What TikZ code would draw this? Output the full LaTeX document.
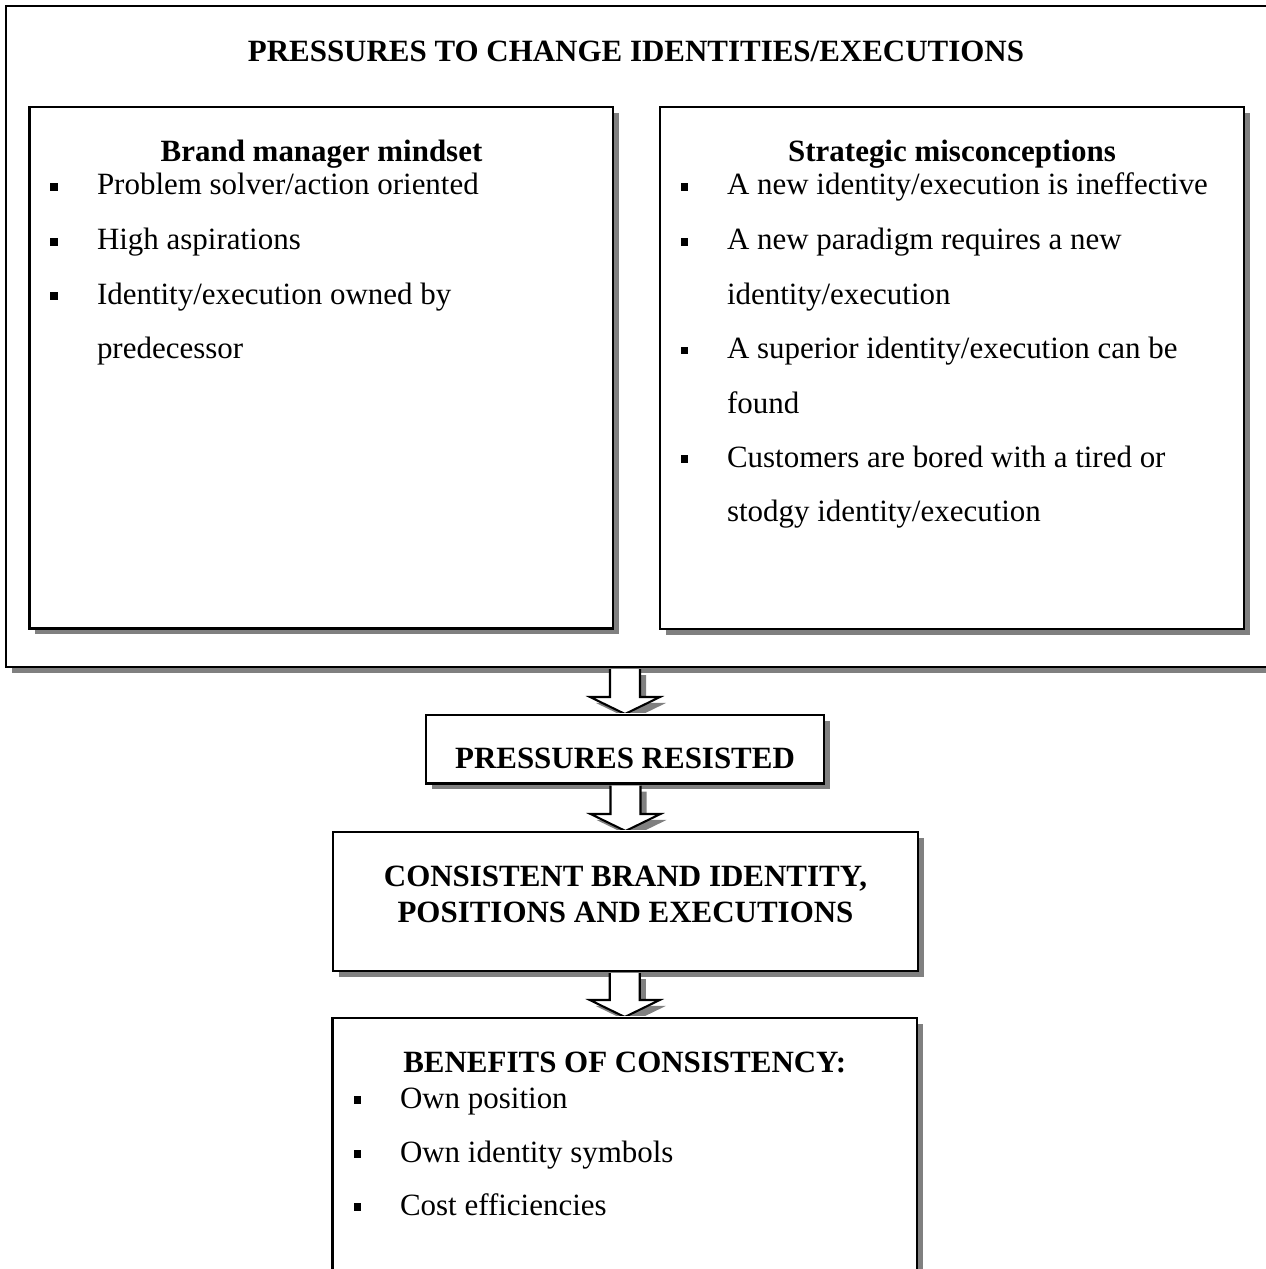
\documentclass[tikz,border=0pt]{standalone}
\usepackage{fontspec}
\setmainfont{Liberation Serif}
\usetikzlibrary{calc,fit,shadows}
\definecolor{shadowgray}{RGB}{128,128,128}
\newcommand\arrowshape[4]{($(#1)+(-15+#3,1+#4)$) -- ($(#2)+(-15+#3,-17+#4)$) -- ($(#2)+(-35+#3,-17+#4)$) -- ($(#2)+(#3,#4)$) -- ($(#2)+(35+#3,-17+#4)$) -- ($(#2)+(15+#3,-17+#4)$) -- ($(#1)+(15+#3,1+#4)$)}
\newcommand\blockarrow[2]{%
  \coordinate (#1s) at (#1.south -| #2.north);
  \coordinate (#2t) at (#2.north);
  \begin{scope}
    \clip ($(#1s)+(-60,-3)$) rectangle ($(#2t)+(60,-1)$);
    \fill[shadowgray] \arrowshape{#1s}{#2t}{6}{6} -- cycle;
    \draw[line width=0.8pt, fill=white] \arrowshape{#1s}{#2t}{0}{0};
  \end{scope}}
\newcommand\bitem[5]{\node[bul] (#1b) at (#2,#4-8) {}; \node[item] (#1) at (#3,#4) {#5};}
\begin{document}
\begin{tikzpicture}[x=0.3876pt, y=-0.3876pt,
  sbox/.style={draw=black, line width=0.8pt, fill=white, inner sep=0pt, rectangle,
    drop shadow={shadow xshift=2.3pt, shadow yshift=-2.3pt, fill=shadowgray, opacity=1}},
  head/.style={font=\fontsize{12}{14}\selectfont\bfseries, anchor=base, inner sep=0pt},
  item/.style={font=\fontsize{12}{14}\selectfont, anchor=base west, inner sep=0pt},
  bul/.style={fill=black, draw=none, rectangle, minimum size=3pt, inner sep=0pt}]
\useasboundingbox (0,0) rectangle (1266,1269);
% outer frame and the two upper boxes
\node[sbox, fit={(6,6) (1272,667)}] (outer) {};
\node[sbox, fit={(29.5,107) (613,628.5)}] (left) {};
\node[sbox, fit={(660,107) (1244,629)}] (right) {};
\node[head] (title) at (636,62) {PRESSURES TO CHANGE IDENTITIES/EXECUTIONS};
% left box
\node[head] (lh) at (321.5,162) {Brand manager mindset};
\bitem{l1}{54}{96.5}{195}{Problem solver/action oriented}
\bitem{l2}{54}{96.5}{250}{High aspirations}
\bitem{l3}{54}{96.5}{304}{Identity/execution owned by}
\node[item] (l3b2) at (96.5,358.5) {predecessor};
% right box
\node[head] (rh) at (952,162) {Strategic misconceptions};
\bitem{r1}{684.5}{726.5}{195}{A new identity/execution is ineffective}
\bitem{r2}{684.5}{726.5}{250}{A new paradigm requires a new}
\node[item] (r2b2) at (726.5,304) {identity/execution};
\bitem{r3}{684.5}{726.5}{358.5}{A superior identity/execution can be}
\node[item] (r3b2) at (726.5,413) {found};
\bitem{r4}{684.5}{726.5}{467}{Customers are bored with a tired or}
\node[item] (r4b2) at (726.5,521) {stodgy identity/execution};
% pressures resisted
\node[sbox, fit={(426,715) (824,783.5)}] (pres) {};
\blockarrow{outer}{pres}
\node[head] (presh) at (625,768) {PRESSURES RESISTED};
% consistent
\node[sbox, fit={(333,832) (918,971)}] (cons) {};
\blockarrow{pres}{cons}
\node[head] (consh1) at (625.5,886) {CONSISTENT BRAND IDENTITY,};
\node[head] (consh2) at (625.5,922) {POSITIONS AND EXECUTIONS};
% benefits
\node[sbox, fit={(332.5,1018) (917,1300)}] (bene) {};
\blockarrow{cons}{bene}
\node[head] (beneh) at (624.7,1072) {BENEFITS OF CONSISTENCY:};
\bitem{b1}{357.5}{399.5}{1108}{Own position}
\bitem{b2}{357.5}{399.5}{1162}{Own identity symbols}
\bitem{b3}{357.5}{399.5}{1215}{Cost efficiencies}
\end{tikzpicture}
\end{document}
